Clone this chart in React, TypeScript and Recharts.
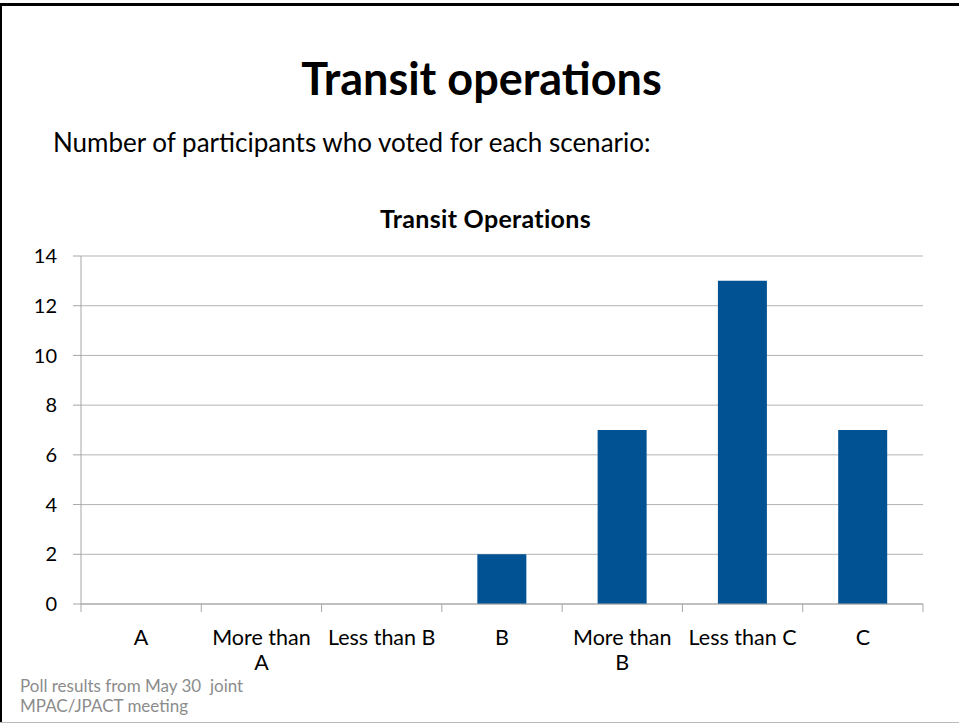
import React from "react";
import { BarChart, Bar, XAxis, YAxis, CartesianGrid } from "recharts";

const categories = ["A", "More than A", "Less than B", "B", "More than B", "Less than C", "C"];
const votes = [0, 0, 0, 2, 7, 13, 7];
const tickLines = [["A"], ["More than", "A"], ["Less than B"], ["B"], ["More than", "B"], ["Less than C"], ["C"]];
const yTicks = [0, 2, 4, 6, 8, 10, 12, 14];

const data = categories.map((name, i) => ({ name, votes: votes[i] }));

const W = 959;
const H = 723;
const M = { top: 256, right: 36, bottom: 59, left: 21 };
const Y_AXIS_W = 60;
const X_AXIS_H = 60;
const PLOT_W = W - M.left - M.right - Y_AXIS_W;
const PLOT_BOTTOM = H - M.bottom - X_AXIS_H;
const BAND = PLOT_W / categories.length;
const FONT = "Lato, 'Open Sans', sans-serif";

const XTick = (props: any) => {
  const { x, index } = props;
  const lines = tickLines[index] || [];
  return (
    <g>
      <line x1={x - BAND / 2} x2={x - BAND / 2} y1={PLOT_BOTTOM} y2={PLOT_BOTTOM + 8} stroke="#a6a6a6" />
      {index === categories.length - 1 && (
        <line x1={x + BAND / 2} x2={x + BAND / 2} y1={PLOT_BOTTOM} y2={PLOT_BOTTOM + 8} stroke="#a6a6a6" />
      )}
      {lines.map((t: string, i: number) => (
        <text key={i} x={x} y={PLOT_BOTTOM + 41 + i * 25} textAnchor="middle" fontSize={21.5} fill="#000" fontFamily={FONT}>
          {t}
        </text>
      ))}
    </g>
  );
};

export default function App() {
  return (
    <div style={{ position: "absolute", left: 0, top: 0, width: W, height: H, background: "#fff", fontFamily: FONT, overflow: "hidden" }}>
      {/* slide frame */}
      <div style={{ position: "absolute", left: 0, top: 3, width: W, height: 3, background: "#000" }} />
      <div style={{ position: "absolute", left: 0, top: 3, width: 2, height: H - 3, background: "#000" }} />
      <div style={{ position: "absolute", left: 0, top: H - 1, width: W, height: 1, background: "#bbb" }} />

      <div style={{ position: "absolute", left: 0, width: W, top: 50, paddingLeft: 2, textAlign: "center", fontSize: 45, fontWeight: 700, lineHeight: "56px" }}>
        Transit operations
      </div>
      <div style={{ position: "absolute", left: 53, top: 126, fontSize: 26, lineHeight: "32px" }}>
        Number of participants who voted for each scenario:
      </div>
      <div style={{ position: "absolute", left: 0, width: W, top: 203, paddingLeft: 6, textAlign: "center", fontSize: 25, fontWeight: 700, lineHeight: "30px", letterSpacing: 0.3 }}>
        Transit Operations
      </div>

      <div style={{ position: "absolute", left: 0, top: 0 }}>
        <BarChart width={W} height={H} data={data} margin={M} barCategoryGap="29.5%">
          <CartesianGrid vertical={false} stroke="#b3b3b3" />
          <XAxis
            dataKey="name"
            height={X_AXIS_H}
            interval={0}
            tickLine={false}
            axisLine={{ stroke: "#a6a6a6" }}
            tick={<XTick />}
          />
          <YAxis
            width={Y_AXIS_W}
            domain={[0, 14]}
            ticks={yTicks}
            tickSize={8}
            tickMargin={16}
            axisLine={{ stroke: "#a6a6a6" }}
            tickLine={{ stroke: "#a6a6a6" }}
            tick={{ fontSize: 20, fill: "#000", fontFamily: FONT }}
          />
          <Bar dataKey="votes" fill="#005293" isAnimationActive={false} />
        </BarChart>
      </div>

      <div style={{ position: "absolute", left: 20, top: 676, fontSize: 17, lineHeight: "20px", color: "#8c8c8c" }}>
        Poll results from May 30&nbsp; joint
        <br />
        MPAC/JPACT meeting
      </div>
    </div>
  );
}
